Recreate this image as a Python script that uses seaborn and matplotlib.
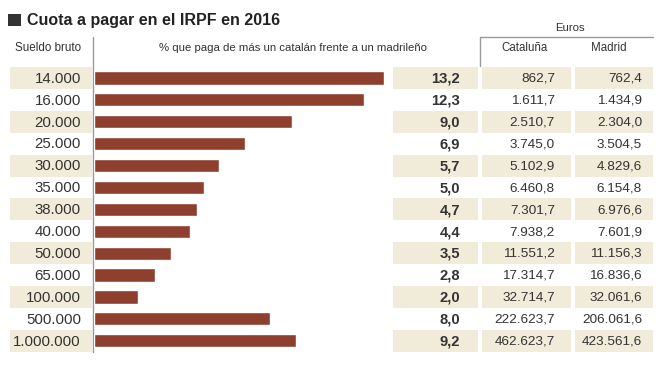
import pandas as pd
import matplotlib.pyplot as plt
import seaborn as sns
from matplotlib.patches import Rectangle

sueldos = ["14.000", "16.000", "20.000", "25.000", "30.000", "35.000", "38.000",
           "40.000", "50.000", "65.000", "100.000", "500.000", "1.000.000"]
pct_mas = [13.2, 12.3, 9.0, 6.9, 5.7, 5.0, 4.7, 4.4, 3.5, 2.8, 2.0, 8.0, 9.2]
cataluna = ["862,7", "1.611,7", "2.510,7", "3.745,0", "5.102,9", "6.460,8", "7.301,7",
            "7.938,2", "11.551,2", "17.314,7", "32.714,7", "222.623,7", "462.623,7"]
madrid = ["762,4", "1.434,9", "2.304,0", "3.504,5", "4.829,6", "6.154,8", "6.976,6",
          "7.601,9", "11.156,3", "16.836,6", "32.061,6", "206.061,6", "423.561,6"]

df = pd.DataFrame({"sueldo": sueldos, "pct": pct_mas})

sns.set_theme(style="white")
plt.rcParams["font.family"] = ["Liberation Sans", "DejaVu Sans"]

W, H = 664, 366
fig = plt.figure(figsize=(W / 100, H / 100), dpi=100)

# capa de fondo en coordenadas de pixel
bg = fig.add_axes([0, 0, 1, 1])
bg.set_xlim(0, W)
bg.set_ylim(H, 0)
bg.axis("off")

beige = "#f0ecd9"
txt = "#333333"
row0 = 67.0
pitch = 21.9
cols = [(10, 92), (393, 478), (482, 571), (575, 653)]

for i in range(len(sueldos)):
    top = row0 + i * pitch
    if i % 2 == 0:
        for x0, x1 in cols:
            bg.add_patch(Rectangle((x0, top), x1 - x0, pitch, color=beige, lw=0, zorder=0))
    yc = top + pitch / 2 + 0.8
    bg.text(81, yc, sueldos[i], ha="right", va="center", fontsize=10.8, color=txt)
    bg.text(460, yc, f"{pct_mas[i]:.1f}".replace(".", ","), ha="right", va="center",
            fontsize=10.6, fontweight="bold", color=txt)
    bg.text(555, yc, cataluna[i], ha="right", va="center", fontsize=9.7, color=txt)
    bg.text(642, yc, madrid[i], ha="right", va="center", fontsize=9.7, color=txt)

# titulo
bg.add_patch(Rectangle((8, 14), 13, 12, color="#333333", lw=0))
bg.text(27, 20, "Cuota a pagar en el IRPF en 2016", ha="left", va="center",
        fontsize=11.5, fontweight="bold", color="#222222")

# cabeceras
bg.text(48, 48, "Sueldo bruto", ha="center", va="center", fontsize=8.4, color=txt)
bg.text(293, 48, "% que paga de más un catalán frente a un madrileño", ha="center",
        va="center", fontsize=8.2, color=txt)
bg.text(570, 28, "Euros", ha="center", va="center", fontsize=8.2, color=txt)
bg.text(525, 48, "Cataluña", ha="center", va="center", fontsize=8.3, color=txt)
bg.text(609, 48, "Madrid", ha="center", va="center", fontsize=8.3, color=txt)
bg.plot([480, 480, 653], [66, 37, 37], color="#999999", lw=1)
bg.plot([93, 93], [37, 352], color="#999999", lw=1)

# barras
bar_top = row0
bar_bot = row0 + len(sueldos) * pitch
ax = fig.add_axes([93.5 / W, 1 - bar_bot / H, 300 / W, (bar_bot - bar_top) / H])
ax.patch.set_alpha(0)
sns.barplot(data=df, x="pct", y="sueldo", orient="h", color="#8e3f2e",
            saturation=1, width=0.6, ax=ax)
ax.set_xlim(0, 300 / 22.0)
ax.set_ylim(len(sueldos) - 0.5, -0.5)
ax.axis("off")

fig.savefig("out.png", dpi=100)
